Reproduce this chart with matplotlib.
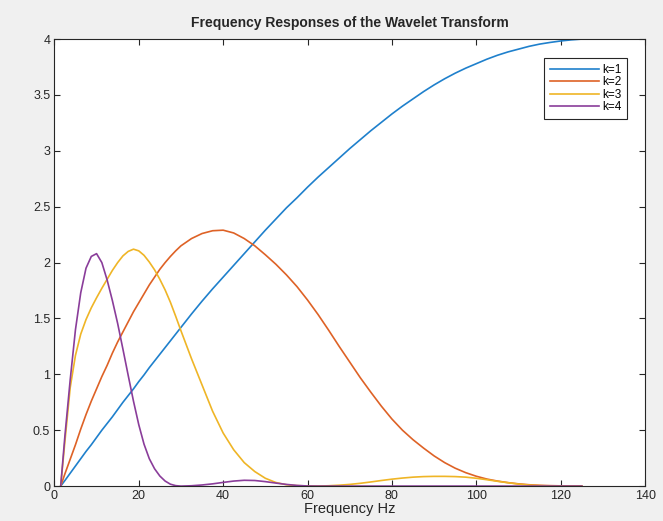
import matplotlib
matplotlib.use('Agg')
import matplotlib.pyplot as plt

plt.rcParams['font.family'] = ['Liberation Sans', 'DejaVu Sans']

# frequency grid (Hz): fine up to 30, then every 2.5
freq = [1.5, 2.5, 3.75, 5, 6.25, 7.5, 8.75, 10, 11.25, 12.5, 13.75, 15,
        16.25, 17.5, 18.75, 20, 21.25, 22.5, 23.75, 25, 26.25, 27.5, 28.75, 30,
        32.5, 35, 37.5, 40, 42.5, 45, 47.5, 50, 52.5, 55, 57.5, 60, 62.5, 65,
        67.5, 70, 72.5, 75, 77.5, 80, 82.5, 85, 87.5, 90, 92.5, 95, 97.5, 100,
        102.5, 105, 107.5, 110, 112.5, 115, 117.5, 120, 122.5, 125]

k1 = [0, 0.05, 0.115, 0.18, 0.245, 0.31, 0.37, 0.435, 0.50, 0.56, 0.62, 0.685,
      0.75, 0.81, 0.87, 0.935, 0.995, 1.06, 1.12, 1.18, 1.24, 1.30, 1.36, 1.42,
      1.54, 1.655, 1.765, 1.87, 1.975, 2.08, 2.185, 2.29, 2.39, 2.49, 2.58, 2.675, 2.765, 2.85,
      2.935, 3.02, 3.10, 3.18, 3.255, 3.33, 3.40, 3.465, 3.53, 3.59, 3.645, 3.695, 3.74, 3.78,
      3.82, 3.855, 3.885, 3.91, 3.935, 3.955, 3.97, 3.983, 3.993, 4.00]

k2 = [0, 0.11, 0.24, 0.37, 0.51, 0.64, 0.76, 0.87, 0.98, 1.08, 1.19, 1.29,
      1.38, 1.47, 1.56, 1.64, 1.72, 1.80, 1.87, 1.94, 2.00, 2.055, 2.105, 2.15,
      2.215, 2.26, 2.285, 2.29, 2.265, 2.215, 2.15, 2.07, 1.985, 1.89, 1.785, 1.665, 1.535, 1.395,
      1.25, 1.11, 0.97, 0.84, 0.715, 0.60, 0.50, 0.415, 0.34, 0.27, 0.21, 0.16, 0.12, 0.088,
      0.063, 0.045, 0.031, 0.02, 0.012, 0.007, 0.004, 0.002, 0.001, 0.0]

k3 = [0, 0.40, 0.88, 1.17, 1.36, 1.49, 1.595, 1.685, 1.77, 1.85, 1.93, 2.0,
      2.06, 2.10, 2.12, 2.105, 2.065, 2.005, 1.935, 1.85, 1.755, 1.645, 1.52, 1.39,
      1.14, 0.905, 0.67, 0.475, 0.325, 0.21, 0.13, 0.07, 0.032, 0.012, 0.004, 0.001, 0.0, 0.003,
      0.008, 0.015, 0.025, 0.037, 0.05, 0.062, 0.072, 0.08, 0.085, 0.087, 0.087, 0.085, 0.08, 0.07,
      0.057, 0.043, 0.03, 0.018, 0.009, 0.004, 0.001, 0.0, 0.0, 0.0]

k4 = [0, 0.45, 0.95, 1.40, 1.73, 1.95, 2.055, 2.08, 2.0, 1.845, 1.66, 1.455,
      1.225, 0.99, 0.76, 0.55, 0.375, 0.245, 0.155, 0.09, 0.045, 0.017, 0.004, 0.0,
      0.003, 0.01, 0.02, 0.033, 0.045, 0.052, 0.05, 0.04, 0.027, 0.015, 0.006, 0.001, 0, 0,
      0, 0, 0, 0, 0, 0, 0, 0, 0, 0, 0, 0, 0, 0,
      0, 0, 0, 0, 0, 0, 0, 0, 0, 0]

labels = ['k=1', 'k=2', 'k=3', 'k=4']
colors = ['#1f80cc', '#de6226', '#efb526', '#8a3d9a']

fig = plt.figure(figsize=(6.63, 5.21), dpi=100, facecolor='#f0f0f0')
ax = fig.add_axes([0.082, 0.067, 0.891, 0.858])

for y, lab, c in zip([k1, k2, k3, k4], labels, colors):
    ax.plot(freq, y, color=c, linewidth=1.2, label=lab)

ax.set_xlim(0, 140)
ax.set_ylim(0, 4)
ax.set_xticks(range(0, 141, 20))
ax.set_yticks([0, 0.5, 1, 1.5, 2, 2.5, 3, 3.5, 4])
ax.set_yticklabels(['0', '0.5', '1', '1.5', '2', '2.5', '3', '3.5', '4'])
ax.tick_params(direction='in', top=True, right=True, length=4,
               labelsize=9, colors='#262626', pad=3)
for s in ax.spines.values():
    s.set_color('#262626')
    s.set_linewidth(0.8)

ax.set_title('Frequency Responses of the Wavelet Transform',
             fontsize=10, fontweight='bold', color='#262626', pad=9)
ax.set_xlabel('Frequency Hz', fontsize=10.5, color='#262626', labelpad=0)

leg = ax.legend(loc='upper right', fontsize=8.5, handlelength=4.2,
                labelspacing=0.05, borderpad=0.45, handletextpad=0.3,
                fancybox=False, framealpha=1, edgecolor='#262626',
                bbox_to_anchor=(0.98, 0.97))
leg.get_frame().set_linewidth(0.8)

fig.savefig('out.png', dpi=100, facecolor=fig.get_facecolor())
